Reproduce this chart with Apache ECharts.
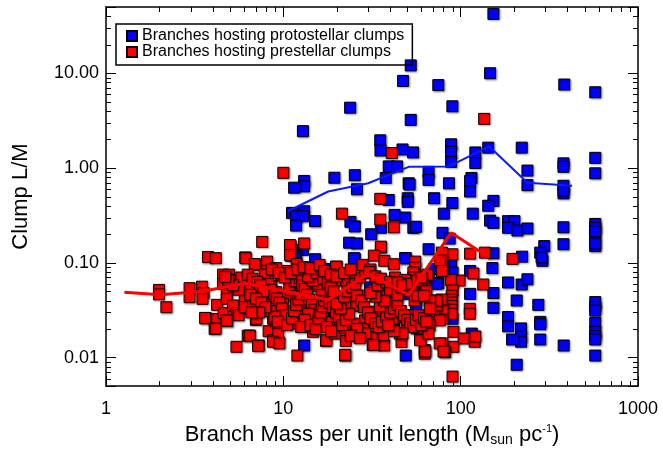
<!DOCTYPE html>
<html>
<head>
<meta charset="utf-8">
<script src="https://cdn.jsdelivr.net/npm/echarts@6/dist/echarts.min.js"></script>
<style>html,body{margin:0;padding:0;background:#fff}#c{width:663px;height:452px}</style>
</head>
<body>
<div id="c"></div>
<script>
// ---- data (x = branch mass per unit length, y = clump L/M) ----
var protostellarPoints = [
[153,42.3],[52.3,12.1],[146.5,10],[47.3,8.3],[74.8,7.5],[384,7.6],[574,6.3],[23.8,4.33],[89.8,4.48],[52.3,3.22],[12.9,2.45],
[35.2,1.96],[35.3,1.53],[47,1.57],[53.9,1.46],[88.3,1.78],[88.3,1.48],[88.3,1.16],[121,1.46],[121,1.13],[221,1.64],[143,1.64],
[39.3,1.04],[43.8,1.04],[238,0.94],[380,1.12],[380,1.03],[574,1.28],[574,0.88],[19.4,0.79],[25.3,0.84],[37.8,0.785],[65.9,0.91],
[65.9,0.75],[85.9,0.69],[50.9,0.69],[51.5,0.67],[115,0.785],[113,0.73],[113,0.565],[238,0.66],[380,0.65],[380,0.54],[380,0.58],
[13.1,0.73],[13.1,0.64],[11.5,0.62],[26,0.597],[39.3,0.46],[50.3,0.48],[50.3,0.44],[70.8,0.48],[89.8,0.427],[153,0.45],[143,0.40],
[80.4,0.33],[117,0.33],[42.4,0.32],[48.7,0.30],[11.2,0.336],[11.8,0.31],[13.1,0.35],[12.9,0.31],[15.1,0.275],[11.8,0.247],
[23.9,0.27],[25.3,0.242],[54.1,0.234],[56,0.24],[35.5,0.234],[31.3,0.20],[146.5,0.279],[153,0.264],[185,0.275],[201,0.275],
[185,0.234],[209,0.219],[238,0.23],[380,0.237],[380,0.157],[574,0.257],[574,0.234],[574,0.195],[574,0.15],[574,0.16],[574,0.215],
[79,0.207],[86.7,0.18],[23.5,0.163],[26,0.16],[35.5,0.145],[12.9,0.137],[15.1,0.109],[25.3,0.11],[49,0.112],[65.9,0.139],
[153,0.126],[222,0.116],[296,0.15],[281,0.128],[289,0.105],[286,0.114],[11.8,0.119],[151,0.088],
[88.3,0.0966],[90,0.079],[90,0.06],[79,0.082],[70.8,0.086],[113,0.082],[185,0.062],[221,0.059],[238,0.067],
[113,0.047],[153,0.048],[74.8,0.061],[65.9,0.070],[58.3,0.051],[50.9,0.047],[43.3,0.046],[56,0.040],[80,0.031],[90,0.0257],
[153,0.0335],[185,0.0268],[185,0.0214],[219,0.0203],[219,0.0166],[219,0.0147],[195,0.0155],[207,0.0084],[207,0.040],[274,0.036],
[281,0.0238],[281,0.0225],[281,0.0155],[381,0.0134],[574,0.0385],[574,0.0342],[574,0.0313],[574,0.0232],[574,0.0187],
[574,0.0169],[574,0.0155],[574,0.0105],[49,0.0105],[13.1,0.0134],[26,0.0169],[115.5,0.0179],[56,0.0355],[59,0.047],
[41.6,0.045],[73,0.06],[48.6,0.112],[25,0.112],[30.8,0.055],[11.6,0.118],[19.5,0.033],[17.5,0.086],
[12,0.05],[14,0.035],[17,0.03],[20,0.042],[25,0.04],[35,0.06],[38,0.029],[44,0.05],[23,0.075],[42,0.022],[60,0.02]
];
var prestellarPoints = [
[1.99,0.0517],[1.99,0.0465],[2.19,0.034],[2.96,0.054],[2.96,0.0434],[3.48,0.056],[3.55,0.048],[3.5,0.0417],[3.76,0.115],
[4.16,0.112],[4.23,0.036],[3.65,0.026],[4.16,0.0255],[4.1,0.0201],[4.82,0.0243],[4.6,0.0295],[4.57,0.075],[4.94,0.075],
[4.57,0.060],[4.88,0.058],[4.8,0.047],[4.8,0.0417],[5.2,0.0355],[5.44,0.0295],[5.6,0.028],[5.44,0.013],[6.1,0.114],[6.3,0.017],
[5.9,0.06],[6.2,0.049],[6.2,0.0385],[6.2,0.034],
[10.0,0.89],[35.2,0.473],[35.2,0.286],[42,0.237],[21.4,0.33],[35.5,0.148],[7.6,0.166],[11,0.15],[13.1,0.16],[11,0.119],
[6.97,0.095],[20,0.091],[32.4,0.119],[37.1,0.105],[42,0.0966],[89.8,0.123],[113,0.125],[137,0.128],[196,0.11],[78.4,0.128],
[78.4,0.105],[79,0.089],[118,0.077],[134,0.059],[98.6,0.065],[88,0.066],[90,0.051],[89,0.045],[89,0.041],[89,0.038],[89,0.035],
[89,0.032],[89,0.029],[91,0.0187],[91,0.013],[90,0.0063],[81.7,0.0114],[79,0.026],[79,0.033],[78,0.041],[79,0.0141],
[112.6,0.0327],[112.6,0.029],[104,0.0159],[120,0.0147],[121,0.0167],[135.6,3.3],[40.9,1.44],
[62.7,0.0179],[62.7,0.012],[62.7,0.011],[59.3,0.0159],[70.8,0.030],[72,0.0355],[46.4,0.0146],[37,0.0134],[31.9,0.0136],
[22.3,0.0105],[12,0.0105],[17.4,0.015],[22.5,0.015],[7.28,0.0134],[6.45,0.017],[8.26,0.019],[8.76,0.0153],[9.37,0.0146],
[4.15,0.0203],[3.62,0.0262],[4.8,0.0247],[7.0,0.025],[8.9,0.025],
[10.9,0.154],[10.9,0.121],[11.9,0.097],[6.13,0.112],[6.9,0.097],[8.1,0.103],[9.1,0.088],[8.1,0.082],[7.85,0.075],[9.76,0.073],
[10.6,0.082],[16.1,0.089],[19.8,0.091],[16.1,0.079],[17.9,0.070],[20.9,0.065],[22.7,0.065],[6.06,0.060],[6.47,0.053],[7.37,0.055],
[8.56,0.057],[9.14,0.049],[10.4,0.045],[11.9,0.045],[13.5,0.051],[15.4,0.057],[16.8,0.049],[19.0,0.0434],[21.8,0.040],
[6.06,0.0417],[6.06,0.034],[6.75,0.0355],[7.85,0.037],[8.95,0.0305],[9.97,0.037],[10.6,0.030],[12.4,0.033],[14.4,0.028],
[15.0,0.0238],[16.8,0.0268],[18.7,0.0238],[20.9,0.0228],[22.7,0.0268],[7.05,0.0257],[8.75,0.0257],[10.9,0.0257],[11.4,0.0228],
[12.9,0.022],[14.7,0.0187],[17.5,0.0153],[19.5,0.0179],[9.35,0.0179],[8.75,0.0147],[9.5,0.0141],[6.47,0.017],[7.2,0.0133],
[22.3,0.0107],
[55.4,0.103],[55.4,0.089],[54.1,0.079],[54.1,0.070],[29.2,0.082],[42.6,0.070],[48.6,0.066],[63.1,0.057],[76.2,0.105],
[78.4,0.082],[73.1,0.0355],[73,0.04],[22.7,0.065],[25.4,0.067],[23.7,0.047],[27.1,0.045],[27.1,0.0355],[24.8,0.0355],
[22.3,0.0355],[32.2,0.051],[36.6,0.045],[39.9,0.037],[32.2,0.0305],[36.6,0.0279],[41.6,0.0257],[47.5,0.0268],[54.1,0.0279],
[61.8,0.0257],[49.6,0.022],[45.4,0.0179],[36.6,0.0173],[31.5,0.0166],[32.2,0.0136],[59,0.0153],[63.1,0.0116],[76.2,0.0141],
[80,0.0116],[76.2,0.0247],[25.4,0.0228],[28.9,0.0247],[28.2,0.0203],[22.3,0.0203],[21.8,0.0279],[56.6,0.0203],[66.8,0.022],
[65.8,0.0179],
[8.2,0.06],[8.5,0.052],[8.8,0.047],[9.2,0.042],[9.5,0.038],[9.8,0.033],[10.2,0.028],[8.4,0.031],[8.9,0.027],[9.3,0.024],
[10.5,0.022],[11.2,0.026],[11.5,0.031],[11.8,0.036],[12.2,0.041],[12.5,0.047],[11.0,0.052],[10.8,0.058],[11.6,0.064],
[12.4,0.069],[12.8,0.058],[13.2,0.053],[13.6,0.046],[14,0.041],[14.5,0.036],[15,0.032],[13.8,0.029],[13.2,0.025],[12.6,0.021],
[14.2,0.022],[15.2,0.02],[15.8,0.026],[16.2,0.03],[16.6,0.035],[17,0.04],[17.4,0.045],[16.4,0.052],[15.6,0.06],[14.6,0.065],
[13.8,0.072],[15.4,0.078],[16.8,0.068],[17.8,0.062],[18.5,0.055],[19.2,0.05],[18.2,0.038],[19,0.034],[19.8,0.03],[20.6,0.027],
[17.6,0.021],[18.6,0.019],[21.5,0.022],[22.5,0.025],[23.5,0.029],[21,0.033],[20,0.037],[22,0.044],[23,0.05],[24.5,0.055],
[25.5,0.06],[27,0.07],[29,0.078],[26,0.045],[27.5,0.04],[28.5,0.034],[30,0.03],[31,0.026],[33,0.023],[34.5,0.021],[36,0.024],
[38,0.027],[40,0.03],[42,0.033],[44,0.036],[46,0.031],[48,0.028],[50,0.025],[52,0.023],[54,0.021],[56,0.025],[58,0.028],
[60,0.022],[62,0.026],[64,0.024],[35,0.035],[37,0.04],[33,0.044],[31,0.048],[34,0.058],[38,0.062],[40,0.052],[44,0.046],
[46,0.055],[50,0.06],[52,0.05],[55,0.04],[57,0.045],[60,0.064],[62,0.07],[65,0.075],[47,0.018],[42,0.019],[39,0.022],[29,0.018],
[26,0.02],[24,0.017],[27,0.016],[5.5,0.065],[5.8,0.07],[6.3,0.075],[6.7,0.068],[7.1,0.063],[7.4,0.058],[7.7,0.05],[6.5,0.046],
[7,0.042],[7.5,0.038],[7.9,0.034],[7.3,0.03],[6.6,0.03],[5.6,0.052],[5.2,0.058],[4.9,0.066],[4.7,0.071],[8.6,0.085],[9.4,0.078],
[10.2,0.07],[11,0.078],[12,0.085],[13,0.09],[14.2,0.088],[16,0.095],[17,0.082],[18.5,0.075],[20,0.072],[22,0.078],[24,0.085],
[28,0.095],[31,0.085],[30.5,0.08],[33,0.072],[35.5,0.068],[40,0.063],[44,0.062],[47,0.058],[53,0.06],[57,0.065],[60,0.07],
[64,0.05],[67,0.04],[67,0.033],[62,0.045]
];
var protoTrendX = [10.6, 17.9, 30.1, 50.9, 85.9, 145, 238, 425];
var protoTrendY = [0.35, 0.565, 0.69, 1.03, 1.04, 1.69, 0.70, 0.65];
var preTrendX = [1.27, 2.03, 3.52, 6.1, 17.9, 30.1, 50.9, 88.3, 145];
var preTrendY = [0.049, 0.0459, 0.050, 0.0608, 0.0407, 0.076, 0.0459, 0.207, 0.114];
var xMinorTicks = [2,3,4,5,6,7,8,9,20,30,40,50,60,70,80,90,200,300,400,500,600,700,800,900];
var yMinorTicks = [0.006,0.007,0.008,0.009,0.02,0.03,0.04,0.05,0.06,0.07,0.08,0.09,0.2,0.3,0.4,0.5,0.6,0.7,0.8,0.9,2,3,4,5,6,7,8,9,20,30,40];
var legendNames = ['Branches hosting protostellar clumps', 'Branches hosting prestellar clumps'];

// ---- chart ----
var FONT = 'Liberation Sans';
function isDecade(v) { var l = Math.log10(v); return Math.abs(l - Math.round(l)) < 1e-6; }
function zip(a, b) { return a.map(function (v, i) { return [v, b[i]]; }); }
var tickData = xMinorTicks.map(function (v) { return [v, 1, 0]; })
  .concat(yMinorTicks.map(function (v) { return [10, v, 1]; }));

var axisBase = {
  type: 'log', logBase: 10,
  axisLine: { show: true, lineStyle: { color: '#000', width: 1.5 } },
  axisTick: { show: true, inside: true, length: 10, lineStyle: { color: '#000', width: 1 } },
  splitLine: { show: false },
  minorTick: { show: false }
};
function ax(extra) { return Object.assign({}, JSON.parse(JSON.stringify(axisBase)), extra); }

var shadow = { shadowColor: 'rgba(0,0,0,0.35)', shadowBlur: 2, shadowOffsetX: 1, shadowOffsetY: 1 };

var chart = echarts.init(document.getElementById('c'), null, { renderer: 'canvas' });
chart.setOption({
  animation: false,
  backgroundColor: '#fff',
  textStyle: { fontFamily: FONT },
  grid: { left: 106, right: 25, top: 7, bottom: 63 },
  legend: {
    data: legendNames,
    orient: 'vertical', left: 116, top: 24,
    padding: [4, 8, 5, 10], itemGap: 0,
    itemWidth: 10, itemHeight: 10,
    borderColor: '#000', borderWidth: 1.5,
    textStyle: { fontFamily: FONT, fontSize: 16, color: '#000', lineHeight: 16 }
  },
  xAxis: [
    ax({ min: 1, max: 1000, position: 'bottom',
      axisLabel: { fontFamily: FONT, fontSize: 18, color: '#000', margin: 14,
        formatter: function (v) { return isDecade(v) ? String(Math.round(v)) : ''; } },
      name: '{a|Branch Mass per unit length (M}{s|sun}{a| pc}{p|-1}{a|)}',
      nameLocation: 'middle', nameGap: 36,
      nameTextStyle: { fontFamily: FONT, color: '#000',
        rich: {
          a: { fontFamily: FONT, fontSize: 22, color: '#000', lineHeight: 24 },
          s: { fontFamily: FONT, fontSize: 14, color: '#000', lineHeight: 14, verticalAlign: 'bottom' },
          p: { fontFamily: FONT, fontSize: 11, color: '#000', lineHeight: 11, verticalAlign: 'top' }
        } } }),
    ax({ min: 1, max: 1000, position: 'top', axisLabel: { show: false } })
  ],
  yAxis: [
    ax({ min: 0.005, max: 50, position: 'left',
      axisLabel: { fontFamily: FONT, fontSize: 18, color: '#000', margin: 7,
        formatter: function (v) { return isDecade(v) ? v.toFixed(2) : ''; } },
      name: 'Clump L/M', nameLocation: 'middle', nameGap: 74,
      nameTextStyle: { fontFamily: FONT, fontSize: 22, color: '#000' } }),
    ax({ min: 0.005, max: 50, position: 'right', axisLabel: { show: false } })
  ],
  series: [
    {
      type: 'custom', silent: true, xAxisIndex: 0, yAxisIndex: 0, z: 5,
      data: tickData,
      renderItem: function (params, api) {
        var cs = params.coordSys, st = { stroke: '#000', lineWidth: 1 };
        if (api.value(2) === 0) {
          var x = Math.round(api.coord([api.value(0), 1])[0]) + 0.5;
          return { type: 'group', children: [
            { type: 'line', shape: { x1: x, y1: cs.y + cs.height, x2: x, y2: cs.y + cs.height - 5 }, style: st },
            { type: 'line', shape: { x1: x, y1: cs.y, x2: x, y2: cs.y + 5 }, style: st } ] };
        }
        var y = Math.round(api.coord([10, api.value(1)])[1]) + 0.5;
        return { type: 'group', children: [
          { type: 'line', shape: { x1: cs.x, y1: y, x2: cs.x + 5, y2: y }, style: st },
          { type: 'line', shape: { x1: cs.x + cs.width, y1: y, x2: cs.x + cs.width - 5, y2: y }, style: st } ] };
      }
    },
    {
      name: legendNames[0], type: 'scatter', symbol: 'rect', symbolSize: 11,
      data: protostellarPoints, z: 2,
      itemStyle: Object.assign({ color: '#0000ff', borderColor: '#000', borderWidth: 1, opacity: 1 }, shadow)
    },
    {
      name: legendNames[1], type: 'scatter', symbol: 'rect', symbolSize: 11,
      data: prestellarPoints, z: 3,
      itemStyle: Object.assign({ color: '#ff0000', borderColor: '#1a0000', borderWidth: 1, opacity: 1 }, shadow)
    },
    {
      type: 'line', data: zip(protoTrendX, protoTrendY), symbol: 'none', z: 4, silent: true,
      lineStyle: { color: '#0a1aff', width: 2 }
    },
    {
      type: 'line', data: zip(preTrendX, preTrendY), symbol: 'none', z: 4, silent: true,
      lineStyle: { color: '#ff0000', width: 3 }
    }
  ]
});
</script>
</body>
</html>
